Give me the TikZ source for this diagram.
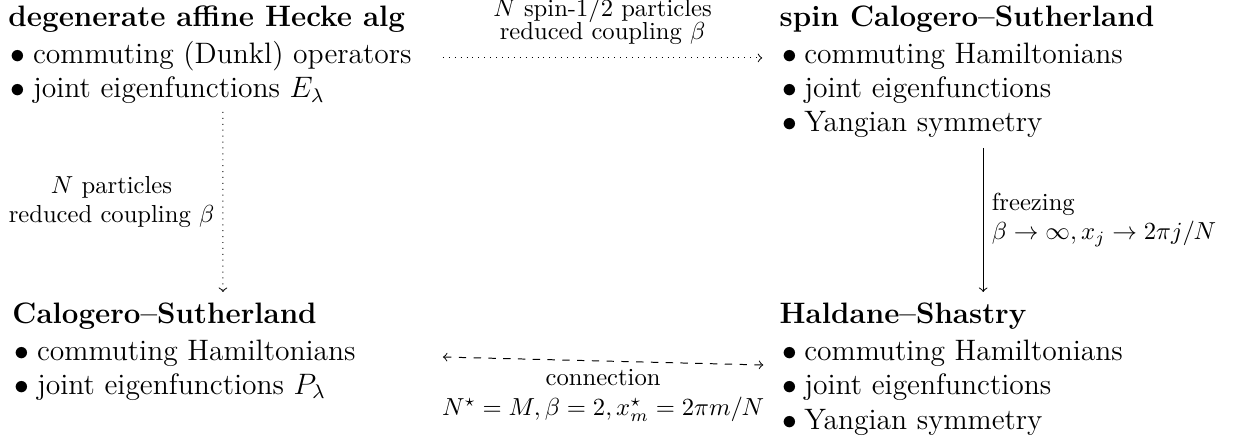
\documentclass[tikz,border=0pt]{standalone}
\usepackage{amsmath,amssymb}
\usetikzlibrary{arrows,positioning}

\newcommand{\itm}{\hspace{1pt}$\bullet$\hspace{3pt}}

\begin{document}
\begin{tikzpicture}[
    model/.style={anchor=north west, inner sep=0pt, align=left, font=\large},
    arrow/.style={->, thin},
    lbl/.style={align=center}
]
\useasboundingbox (0,0) rectangle (17.61,-6.293);
\node[model] (hecke) at (0.114,-0.071) {\textbf{degenerate affine Hecke alg}\\[1pt] \itm commuting (Dunkl) operators\\ \itm joint eigenfunctions $E_\lambda$};
\node[model] (spin) at (11.12,-0.071) {\textbf{spin Calogero--Sutherland}\\[1pt] \itm commuting Hamiltonians\\ \itm joint eigenfunctions\\ \itm Yangian symmetry};
\node[model] (cs) at (0.171,-4.310) {\textbf{Calogero--Sutherland}\\[1pt] \itm commuting Hamiltonians\\ \itm joint eigenfunctions $P_\lambda$};
\node[model] (hs) at (11.12,-4.310) {\textbf{Haldane--Shastry}\\[1pt] \itm commuting Hamiltonians\\ \itm joint eigenfunctions\\ \itm Yangian symmetry};
% arrows between the models
\draw[arrow, dotted] ([shift={(6.207,-0.756)}]hecke.north west) -- ([shift={(-0.243,-0.756)}]spin.north west) node[midway, above, lbl, yshift=2pt] {$N$ spin-1/2 particles\\[-2.8pt] reduced coupling $\beta$};
\draw[arrow, dotted] ([shift={(3.068,-1.527)}]hecke.north west) -- ([shift={(3.011,0.143)}]cs.north west) node[midway, left, lbl] {$N$ particles\\ reduced coupling $\beta$};
\draw[arrow] ([shift={(2.911,-2.041)}]spin.north west) -- ([shift={(2.911,0.143)}]hs.north west) node[midway, right, align=left] {freezing\\ $\beta\to\infty, x_j\to 2\pi j/N$};
\draw[<->, dashed] ([shift={(6.150,-0.785)}]cs.north west) -- ([shift={(-0.228,-0.899)}]hs.north west) node[midway, below, lbl] {connection\\ $N^\star=M, \beta=2, x^\star_m=2\pi m/N$};
\end{tikzpicture}
\end{document}
